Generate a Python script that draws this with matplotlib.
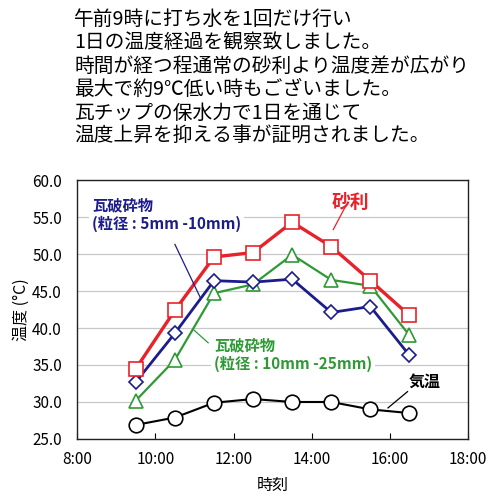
import matplotlib
matplotlib.use("Agg")
import matplotlib.pyplot as plt

plt.rcParams["font.family"] = ["Noto Sans CJK JP", "DejaVu Sans"]

# measurement times (hours) and temperatures
hours = [9.5, 10.5, 11.5, 12.5, 13.5, 14.5, 15.5, 16.5]
gravel = [34.5, 42.4, 49.6, 50.2, 54.3, 51.0, 46.4, 41.7]
tile_small = [32.7, 39.3, 46.4, 46.2, 46.6, 42.1, 42.9, 36.3]
tile_large = [30.2, 35.7, 44.7, 45.9, 49.9, 46.5, 45.7, 39.0]
air = [26.9, 27.9, 29.9, 30.4, 30.0, 30.0, 29.0, 28.5]

xtick_pos = [8, 10, 12, 14, 16, 18]
xtick_labels = ["8:00", "10:00", "12:00", "14:00", "16:00", "18:00"]
ytick_pos = [25, 30, 35, 40, 45, 50, 55, 60]

intro = ("午前9時に打ち水を1回だけ行い\n"
         "1日の温度経過を観察致しました。\n"
         "時間が経つ程通常の砂利より温度差が広がり\n"
         "最大で約9℃低い時もございました。\n"
         "瓦チップの保水力で1日を通じて\n"
         "温度上昇を抑える事が証明されました。")

red = "#e8222a"
navy = "#1c1c8c"
green = "#2f9a35"

fig = plt.figure(figsize=(4.98, 4.98), dpi=100)
ax = fig.add_axes([0.155, 0.1185, 0.785, 0.52])

fig.text(0.149, 0.982, intro, fontsize=14.2, va="top", ha="left",
         linespacing=1.15)

ax.plot(hours, air, color="black", lw=1.5, marker="o", ms=10.5,
        mfc="white", mec="black", mew=1.2, zorder=3)
ax.plot(hours, tile_large, color=green, lw=1.6, marker="^", ms=10,
        mfc="white", mec=green, mew=1.2, zorder=4)
ax.plot(hours, tile_small, color=navy, lw=2.0, marker="D", ms=7.5,
        mfc="white", mec=navy, mew=1.2, zorder=5)
ax.plot(hours, gravel, color=red, lw=2.4, marker="s", ms=10,
        mfc="white", mec=red, mew=1.2, zorder=6)

ax.set_xlim(8, 18)
ax.set_ylim(25, 60)
ax.set_xticks(xtick_pos)
ax.set_xticklabels(xtick_labels)
ax.set_yticks(ytick_pos)
ax.set_yticklabels([f"{v:.1f}" for v in ytick_pos])
ax.tick_params(axis="x", direction="in", length=4, labelsize=11, pad=9)
ax.tick_params(axis="y", length=0, labelsize=11, pad=11)
ax.yaxis.grid(True, color="#c8c8c8", lw=0.9)
ax.set_axisbelow(True)
for s in ax.spines.values():
    s.set_color("#222222")
    s.set_linewidth(1.0)

ax.set_xlabel("時刻", fontsize=11.5, labelpad=6)
ax.set_ylabel("温度 (°C)", fontsize=11.5, labelpad=2)

box = dict(facecolor="white", edgecolor="none", pad=2)

ax.text(15.0, 57.0, "砂利", color=red, fontsize=13.5, fontweight="bold",
        ha="center", va="center", bbox=box, zorder=7)
ax.plot([14.85, 14.55], [56.3, 53.3], color=red, lw=0.9, zorder=7)

ax.text(8.38, 55.3, "瓦破砕物\n(粒径 : 5mm -10mm)", color=navy, fontsize=11,
        fontweight="bold", ha="left", va="center", linespacing=1.2,
        bbox=box, zorder=7)
ax.plot([10.5, 11.15], [51.3, 44.1], color=navy, lw=0.9, zorder=7)

ax.text(11.5, 36.4, "瓦破砕物\n(粒径 : 10mm -25mm)", color=green, fontsize=11,
        fontweight="bold", ha="left", va="center", linespacing=1.2,
        bbox=box, zorder=7)
ax.plot([10.97, 11.35], [39.8, 38.0], color=green, lw=0.9, zorder=7)

ax.text(16.9, 32.7, "気温", color="black", fontsize=11.5, fontweight="bold",
        ha="center", va="center", bbox=box, zorder=7)
ax.plot([16.45, 15.95], [31.4, 29.2], color="black", lw=0.9, zorder=7)

fig.savefig("out.png", dpi=100)
